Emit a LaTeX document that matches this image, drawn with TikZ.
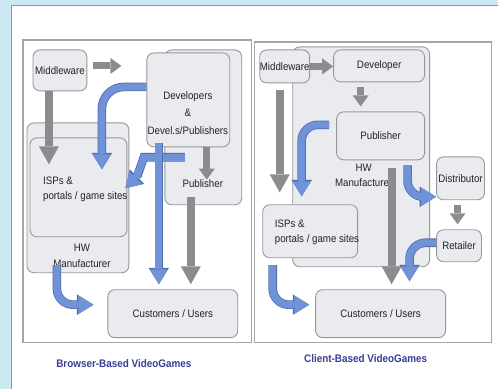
\documentclass[tikz,border=0pt]{standalone}
\usepackage{fontspec}
\setmainfont{Liberation Sans}[FakeStretch=0.9]
\usetikzlibrary{arrows.meta}

\begin{document}
\begin{tikzpicture}[x=1pt,y=-1pt,
	box/.style={draw=boxline, fill=boxfill, line width=0.9pt, rounded corners=7pt, inner sep=0pt, text=textgray, font=\fontsize{10.8}{12}\selectfont},
	lbl/.style={inner sep=0pt, text=textgray, font=\fontsize{10.8}{15}\selectfont},
	grayarrow/.style={draw=arrowgray, line width=8pt, -{Triangle[width=20pt,length=18pt,line width=0pt]}},
	grayarrow small/.style={draw=arrowgray, line width=7pt, -{Triangle[width=16pt,length=11pt,line width=0pt]}},
	bluearrow/.style={draw=arrowblue, line width=7pt, rounded corners=16pt,
		-{Triangle[width=18pt,length=15pt,line width=0pt]},
		preaction={draw=arrowedge, line width=8.6pt, -{Triangle[width=20.5pt,length=16.5pt,line width=0pt]}}},
	caption/.style={inner sep=0pt, text=captionblue, font=\bfseries\fontsize{11}{12}\selectfont}]
	\definecolor{bgblue}{RGB}{204,232,243}
	\definecolor{panelline}{RGB}{150,150,150}
	\definecolor{frameline}{RGB}{165,165,165}
	\definecolor{boxline}{RGB}{150,152,156}
	\definecolor{boxfill}{RGB}{233,235,239}
	\definecolor{textgray}{RGB}{35,35,35}
	\definecolor{arrowgray}{RGB}{140,140,142}
	\definecolor{arrowblue}{RGB}{112,146,214}
	\definecolor{arrowedge}{RGB}{80,110,175}
	\definecolor{captionblue}{RGB}{58,62,150}
	%% Background ------
	\fill[bgblue] (0,0) rectangle (498,389);
	\fill[white] (12,6) rectangle (498,389);
	\draw[panelline, line width=1pt] (12,389) -- (12,6) -- (498,6);
	\draw[frameline, line width=1.2pt] (23,40) rectangle (252,343);
	\draw[frameline, line width=1.2pt] (255,42) rectangle (492,343);
	%% Browser-based boxes ------
	\node[box, minimum width=77pt, minimum height=155pt] (devback) at (203.5,127.5) {};
	\node[box, minimum width=83pt, minimum height=94pt] (dev) at (188.5,100) {};
	\node[lbl, align=center, font=\fontsize{10.8}{17.5}\selectfont] (devtext) at (188,113) {Developers\\\&\\Devel.s/Publishers};
	\node[lbl] (pub) at (203,184) {Publisher};
	\node[box, minimum width=54pt, minimum height=41pt] (mw) at (60,70.5) {Middleware};
	\node[box, minimum width=102pt, minimum height=150pt] (hw) at (78,198) {};
	\node[box, minimum width=97pt, minimum height=99pt] (isp) at (78.5,187.5) {};
	\node[lbl, anchor=west, align=left] (isptext) at (43,190) {ISPs \&\\portals / game sites};
	\node[lbl, align=center, font=\fontsize{10.8}{16}\selectfont] (hwtext) at (82,256) {HW\\Manufacturer};
	\node[box, minimum width=130pt, minimum height=48pt] (cust) at (173,314) {Customers / Users};
	%% Client-based boxes ------
	\node[box, minimum width=137pt, minimum height=220pt] (hwR) at (361.5,157) {};
	\node[box, minimum width=50pt, minimum height=33pt] (mwR) at (285,66.5) {Middleware};
	\node[box, minimum width=91pt, minimum height=32pt] (devR) at (379.5,66) {Developer};
	\node[box, minimum width=88pt, minimum height=48pt] (pubR) at (381,136) {Publisher};
	\node[lbl, align=center, font=\fontsize{10.8}{15}\selectfont] (hwRtext) at (364,176) {HW\\Manufacturer};
	\node[box, minimum width=95pt, minimum height=53pt] (ispR) at (310.5,231.5) {};
	\node[lbl, anchor=west, align=left] (ispRtext) at (275,232.5) {ISPs \&\\portals / game sites};
	\node[box, minimum width=48pt, minimum height=43pt] (distR) at (461,178.5) {Distributor};
	\node[box, minimum width=45pt, minimum height=32pt] (retR) at (459.5,246) {Retailer};
	\node[box, minimum width=130pt, minimum height=48pt] (custR) at (381,314) {Customers / Users};
	%% Browser-based arrows ------
	\draw[grayarrow small] ([shift={(6,-4.5)}]mw.east) -- ([shift={(-25,-34)}]dev.west);
	\draw[grayarrow] ([shift={(-11,0)}]mw.south) -- ([shift={(-29.5,27)}]isp.north);
	\draw[bluearrow, rounded corners=22pt] ([shift={(0,-13)}]dev.west) -| ([shift={(23.5,32)}]isp.north);
	\draw[bluearrow] ([shift={(-3.5,10)}]dev.south) -- ++(-25,0) .. controls +(-16,0) and +(12,-12) .. ([shift={(-2,1)}]isp.east);
	\draw[bluearrow] ([shift={(-29.5,-4)}]dev.south) -- ([shift={(-14,-5)}]cust.north);
	\draw[grayarrow small] ([shift={(18.5,0)}]dev.south) -- ([shift={(4,0)}]pub.north);
	\draw[grayarrow] ([shift={(-12.5,-8)}]devback.south) -- ([shift={(18,-5)}]cust.north);
	\draw[bluearrow] ([shift={(-21,-8)}]hw.south) |- ([shift={(-14,-9)}]cust.west);
	%% Client-based arrows ------
	\draw[grayarrow small] (mwR.east) -- (mwR.east -| devR.west);
	\draw[grayarrow small] ([shift={(-18.5,5)}]devR.south) -- ([shift={(-20,-5)}]pubR.north);
	\draw[grayarrow] ([shift={(-5,7)}]mwR.south) -- ([shift={(-30.5,-12)}]ispR.north);
	\draw[bluearrow] ([shift={(-7,-11)}]pubR.west) -| ([shift={(-8.5,-8)}]ispR.north);
	\draw[grayarrow] ([shift={(11,8)}]pubR.south) -- ([shift={(11,-5)}]custR.north);
	\draw[bluearrow] ([shift={(27,5)}]pubR.south) |- ([shift={(0,18.5)}]distR.west);
	\draw[grayarrow small] ([shift={(-3,5)}]distR.south) -- ([shift={(-1.5,-5)}]retR.north);
	\draw[bluearrow] ([shift={(0,-3)}]retR.west) -| ([shift={(29,-8)}]custR.north);
	\draw[bluearrow] ([shift={(-37.5,7)}]ispR.south) |- ([shift={(-6,-9)}]custR.west);
	%% Captions ------
	\node[caption] (capL) at (124,364) {Browser-Based VideoGames};
	\node[caption] (capR) at (366,359) {Client-Based VideoGames};
\end{tikzpicture}
\end{document}
